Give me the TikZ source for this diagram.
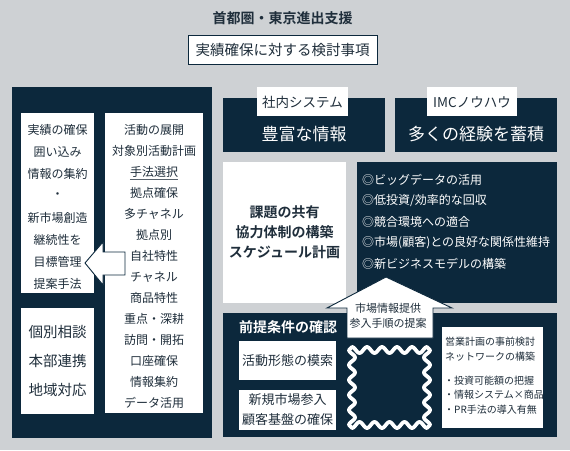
\documentclass[tikz,border=0pt]{standalone}
\usepackage{fontspec}
\setmainfont{Noto Sans CJK JP}[BoldFont={Noto Sans CJK JP Bold}]
\definecolor{navy}{HTML}{0C283C}
\definecolor{paper}{HTML}{CED1D4}
\definecolor{ink}{HTML}{1F2E3B}

\begin{document}
\begin{tikzpicture}[x=1pt, y=-1pt,
  txt/.style={text=ink, inner sep=0pt},
  wtxt/.style={text=white, inner sep=0pt},
  blockarrow/.style={fill=white, draw=navy, line width=0.9pt, line join=miter}]
  % background and frame
  \fill[paper] (0,0) rectangle (570,450);
  \useasboundingbox (0,0) rectangle (570,450);

  % heading
  \node[txt, font=\fontsize{14}{16}\selectfont\bfseries] (title) at (282.5, 18) {首都圏・東京進出支援};
  \draw[navy, fill=white, line width=0.9pt] (188,35) rectangle (377,64);
  \node[txt, font=\fontsize{14.5}{16}\selectfont] (theme) at (282.5, 50) {実績確保に対する検討事項};

  % left panel
  \fill[navy] (12,87) rectangle (212,438);
  \fill[white] (21,113) rectangle (94,293);
  \fill[white] (21,308) rectangle (94,414);
  \fill[white] (105,113) rectangle (203,413);
  \foreach \t [count=\i] in {実績の確保,囲い込み,情報の集約,・,新市場創造,継続性を,目標管理,提案手法}
    \node[txt, font=\fontsize{12}{14}\selectfont] (keep\i) at (57.5, 108+22*\i) {\t};
  \foreach \t [count=\i] in {個別相談,本部連携,地域対応}
    \node[txt, font=\fontsize{14.5}{16}\selectfont] (local\i) at (57.5, 303+29*\i) {\t};
  \foreach \t [count=\i] in {活動の展開,対象別活動計画,手法選択,拠点確保,多チャネル,拠点別,自社特性,チャネル,商品特性,重点・深耕,訪問・開拓,口座確保,情報集約,データ活用}
    \node[txt, font=\fontsize{12}{14}\selectfont] (act\i) at (154, 109+21*\i) {\t};
  \draw[ink!75, line width=0.7pt] ([yshift=-1.5pt]act3.south west) -- ([yshift=-1.5pt]act3.south east);
  \draw[blockarrow] (85,263) -- (103,242) -- (103,252) -- (125,252) -- (125,275)
    -- (103,275) -- (103,285) -- cycle;

  % upper right
  \fill[navy] (223,98) rectangle (385,152);
  \fill[navy] (395,98) rectangle (557,152);
  \fill[white] (257,87) rectangle (348,116);
  \fill[white] (427,87) rectangle (517,116);
  \node[txt, font=\fontsize{13.5}{15}\selectfont] (systab) at (302.5, 102) {社内システム};
  \node[txt, font=\fontsize{13.5}{15}\selectfont] (imctab) at (472, 102) {IMCノウハウ};
  \node[wtxt, font=\fontsize{17}{19}\selectfont] (info) at (304, 134) {豊富な情報};
  \node[wtxt, font=\fontsize{17}{19}\selectfont] (exp) at (476, 134) {多くの経験を蓄積};

  % middle
  \fill[white] (223,162) rectangle (346,303);
  \node[txt, font=\fontsize{14}{20}\selectfont\bfseries, align=center] (issue) at (284.5, 232)
    {課題の共有\\協力体制の構築\\スケジュール計画};
  \fill[navy] (357,162) rectangle (557,303);
  \foreach \t [count=\i] in {◎ビッグデータの活用,◎低投資/効率的な回収,◎競合環境への適合,◎市場(顧客)との良好な関係性維持,◎新ビジネスモデルの構築}
    \node[wtxt, font=\fontsize{12}{14}\selectfont, anchor=west] (aim\i) at (362, 159+21*\i) {\t};

  % lower right
  \fill[navy] (223,313) rectangle (557,437);
  \node[wtxt, font=\fontsize{14}{16}\selectfont\bfseries, anchor=west] (premise) at (239, 327) {前提条件の確認};
  \fill[white] (239,341) rectangle (336,380);
  \node[txt, font=\fontsize{13}{15}\selectfont] (form) at (287.5, 361) {活動形態の模索};
  \fill[white] (239,390) rectangle (336,430);
  \node[txt, font=\fontsize{13}{20}\selectfont, align=center] (entry) at (287.5, 410)
    {新規市場参入\\顧客基盤の確保};
  % scalloped frame
  \draw[white, line width=3.8pt, line join=round]
    plot[domain=0:75, samples=76, smooth] ({352+\x}, {350-3*cos(24*\x)})
    -- plot[domain=0:75, samples=76, smooth] ({427+3*cos(24*\x)}, {350+\x})
    -- plot[domain=0:75, samples=76, smooth] ({427-\x}, {425+3*cos(24*\x)})
    -- plot[domain=0:75, samples=76, smooth] ({352-3*cos(24*\x)}, {425-\x})
    -- cycle;
  \fill[white] (442,327) rectangle (543,428);
  \node[txt, font=\fontsize{10}{15}\selectfont, align=left, anchor=north west] (plan) at (445, 337)
    {営業計画の事前検討\\ネットワークの構築};
  \node[txt, font=\fontsize{10}{14.3}\selectfont, align=left, anchor=north west] (check) at (444, 376)
    {・投資可能額の把握\\・情報システム×商品\\・PR手法の導入有無};

  % upward arrow
  \draw[blockarrow] (386,277) -- (452,308) -- (433,308) -- (433,338) -- (347,338)
    -- (347,308) -- (327,308) -- cycle;
  \node[txt, font=\fontsize{11}{15}\selectfont, align=center] (offer) at (388, 316)
    {市場情報提供\\参入手順の提案};
\end{tikzpicture}
\end{document}
